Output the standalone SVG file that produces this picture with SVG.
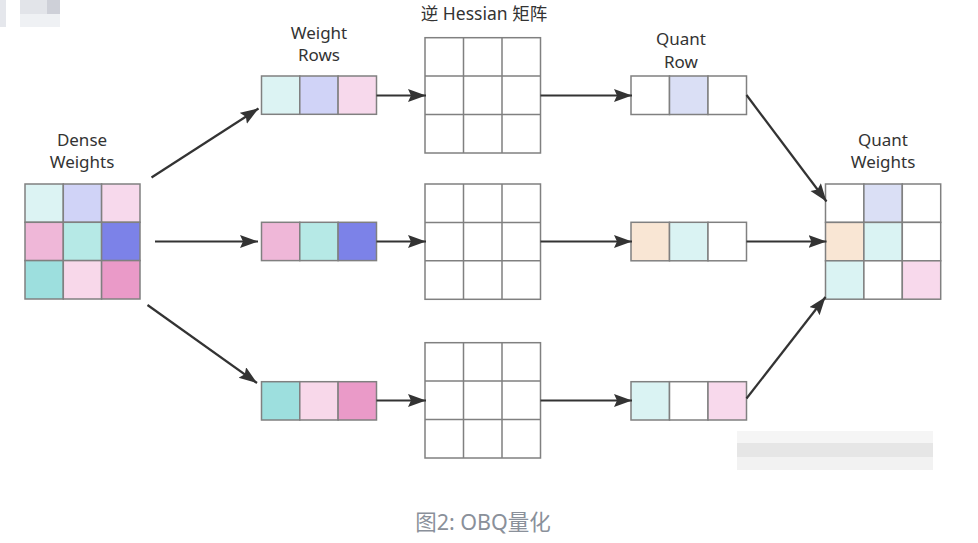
<svg xmlns="http://www.w3.org/2000/svg" width="978" height="543" viewBox="0 0 978 543">
<style>
.lbl{font-family:"Noto Sans","Open Sans","Noto Sans CJK SC",sans-serif;font-size:17px;fill:#333;text-anchor:middle}
.cap{font-family:"Noto Sans","Noto Sans CJK SC",sans-serif;font-size:21.5px;fill:#8a909a;text-anchor:middle}
.c{stroke:#808080;stroke-width:1.5}
.w{fill:#fff}
.arr{stroke:#333;stroke-width:2.2;fill:none;marker-end:url(#ah)}
.wm{stroke:none}
</style>
<defs>
<marker id="ah" markerUnits="userSpaceOnUse" markerWidth="20" markerHeight="14" refX="18" refY="6.5" orient="auto">
<path d="M0,0 L18,6.5 L0,13 L3,6.5 z" fill="#333"/>
</marker>
</defs>
<rect width="978" height="543" fill="#fff"/>
<g id="watermarks" opacity="0.9">
<rect class="wm" x="0" y="0" width="6" height="27" fill="#e3e5ea"/>
<rect class="wm" x="20" y="0" width="40" height="14" fill="#dfe2e7"/>
<rect class="wm" x="47" y="0" width="13" height="14" fill="#c9ccd4"/>
<rect class="wm" x="20" y="14" width="40" height="13" fill="#eef0f3"/>
<rect class="wm" x="737" y="431" width="196" height="12" fill="#f5f5f5"/>
<rect class="wm" x="737" y="443" width="196" height="14" fill="#e4e4e4"/>
<rect class="wm" x="737" y="457" width="196" height="13" fill="#f1f1f1"/>
</g>
<g id="dense-weights">
<text class="lbl" x="82" y="146">Dense</text>
<text class="lbl" x="82" y="168">Weights</text>
<rect class="c" x="25" y="184" width="38.3" height="38.3" fill="#dcf3f3"/>
<rect class="c" x="63.3" y="184" width="38.3" height="38.3" fill="#d0d3f7"/>
<rect class="c" x="101.6" y="184" width="38.4" height="38.3" fill="#f7d9ec"/>
<rect class="c" x="25" y="222.3" width="38.3" height="38.3" fill="#efb7d8"/>
<rect class="c" x="63.3" y="222.3" width="38.3" height="38.3" fill="#b6e9e6"/>
<rect class="c" x="101.6" y="222.3" width="38.4" height="38.3" fill="#7c82e8"/>
<rect class="c" x="25" y="260.6" width="38.3" height="38.4" fill="#9ddfde"/>
<rect class="c" x="63.3" y="260.6" width="38.3" height="38.4" fill="#f8d8ea"/>
<rect class="c" x="101.6" y="260.6" width="38.4" height="38.4" fill="#ea9ac8"/>
</g>
<g id="weight-rows-label">
<text class="lbl" x="319" y="39">Weight</text>
<text class="lbl" x="319" y="61">Rows</text>
</g>
<g id="weight-row-1">
<rect class="c" x="261.5" y="76" width="38.3" height="38.3" fill="#dcf3f3"/>
<rect class="c" x="299.8" y="76" width="38.3" height="38.3" fill="#d0d3f7"/>
<rect class="c" x="338.1" y="76" width="38.4" height="38.3" fill="#f7d9ec"/>
</g>
<g id="weight-row-2">
<rect class="c" x="261.5" y="222.3" width="38.3" height="38.3" fill="#efb7d8"/>
<rect class="c" x="299.8" y="222.3" width="38.3" height="38.3" fill="#b6e9e6"/>
<rect class="c" x="338.1" y="222.3" width="38.4" height="38.3" fill="#7c82e8"/>
</g>
<g id="weight-row-3">
<rect class="c" x="261.5" y="381.7" width="38.3" height="38.3" fill="#9ddfde"/>
<rect class="c" x="299.8" y="381.7" width="38.3" height="38.3" fill="#f8d8ea"/>
<rect class="c" x="338.1" y="381.7" width="38.4" height="38.3" fill="#ea9ac8"/>
</g>
<g id="hessian-label">
<text class="lbl" x="484" y="20" style="font-size:17.5px">逆 Hessian 矩阵</text>
</g>
<g id="hessian-1">
<rect class="c w" x="425" y="37.7" width="115.5" height="115.3"/>
<path class="c" d="M463.5,37.7V153M502,37.7V153M425,76.1H540.5M425,114.5H540.5"/>
</g>
<g id="hessian-2">
<rect class="c w" x="425" y="184" width="115.5" height="115.3"/>
<path class="c" d="M463.5,184V299.3M502,184V299.3M425,222.4H540.5M425,260.8H540.5"/>
</g>
<g id="hessian-3">
<rect class="c w" x="425" y="342.7" width="115.5" height="115.3"/>
<path class="c" d="M463.5,342.7V458M502,342.7V458M425,381.1H540.5M425,419.5H540.5"/>
</g>
<g id="quant-row-label">
<text class="lbl" x="681" y="45">Quant</text>
<text class="lbl" x="681" y="67.5">Row</text>
</g>
<g id="quant-row-1">
<rect class="c" x="631" y="76" width="38.5" height="38.5" fill="#fff"/>
<rect class="c" x="669.5" y="76" width="38.5" height="38.5" fill="#dadff5"/>
<rect class="c" x="708" y="76" width="38.5" height="38.5" fill="#fff"/>
</g>
<g id="quant-row-2">
<rect class="c" x="631" y="222.3" width="38.5" height="38.5" fill="#f9e6d4"/>
<rect class="c" x="669.5" y="222.3" width="38.5" height="38.5" fill="#daf3f3"/>
<rect class="c" x="708" y="222.3" width="38.5" height="38.5" fill="#fff"/>
</g>
<g id="quant-row-3">
<rect class="c" x="631" y="381.7" width="38.5" height="38.3" fill="#daf3f3"/>
<rect class="c" x="669.5" y="381.7" width="38.5" height="38.3" fill="#fff"/>
<rect class="c" x="708" y="381.7" width="38.5" height="38.3" fill="#f8d9ec"/>
</g>
<g id="quant-weights">
<text class="lbl" x="883" y="146">Quant</text>
<text class="lbl" x="883" y="168">Weights</text>
<rect class="c" x="825.5" y="184" width="38.4" height="38.4" fill="#fff"/>
<rect class="c" x="863.9" y="184" width="38.4" height="38.4" fill="#dadff5"/>
<rect class="c" x="902.3" y="184" width="38.4" height="38.4" fill="#fff"/>
<rect class="c" x="825.5" y="222.4" width="38.4" height="38.4" fill="#f9e6d4"/>
<rect class="c" x="863.9" y="222.4" width="38.4" height="38.4" fill="#daf3f3"/>
<rect class="c" x="902.3" y="222.4" width="38.4" height="38.4" fill="#fff"/>
<rect class="c" x="825.5" y="260.8" width="38.4" height="38.4" fill="#daf3f3"/>
<rect class="c" x="863.9" y="260.8" width="38.4" height="38.4" fill="#fff"/>
<rect class="c" x="902.3" y="260.8" width="38.4" height="38.4" fill="#f8d9ec"/>
</g>
<g id="connectors">
<line class="arr" x1="151.5" y1="177.5" x2="258.5" y2="108.5"/>
<line class="arr" x1="155" y1="241.5" x2="258" y2="241.5"/>
<line class="arr" x1="147.5" y1="305" x2="257" y2="383"/>
<line class="arr" x1="376.5" y1="95.5" x2="426" y2="95.5"/>
<line class="arr" x1="376.5" y1="241.5" x2="426" y2="241.5"/>
<line class="arr" x1="376.5" y1="400.5" x2="426" y2="400.5"/>
<line class="arr" x1="540.5" y1="95.5" x2="632" y2="95.5"/>
<line class="arr" x1="540.5" y1="241.5" x2="632" y2="241.5"/>
<line class="arr" x1="540.5" y1="400.5" x2="632" y2="400.5"/>
<line class="arr" x1="746.5" y1="95" x2="826.5" y2="201.5"/>
<line class="arr" x1="746.5" y1="241.5" x2="826.5" y2="241.5"/>
<line class="arr" x1="746.5" y1="398.5" x2="825.5" y2="297"/>
</g>
<g id="caption">
<text class="cap" x="483" y="530">图2: OBQ量化</text>
</g>
</svg>
